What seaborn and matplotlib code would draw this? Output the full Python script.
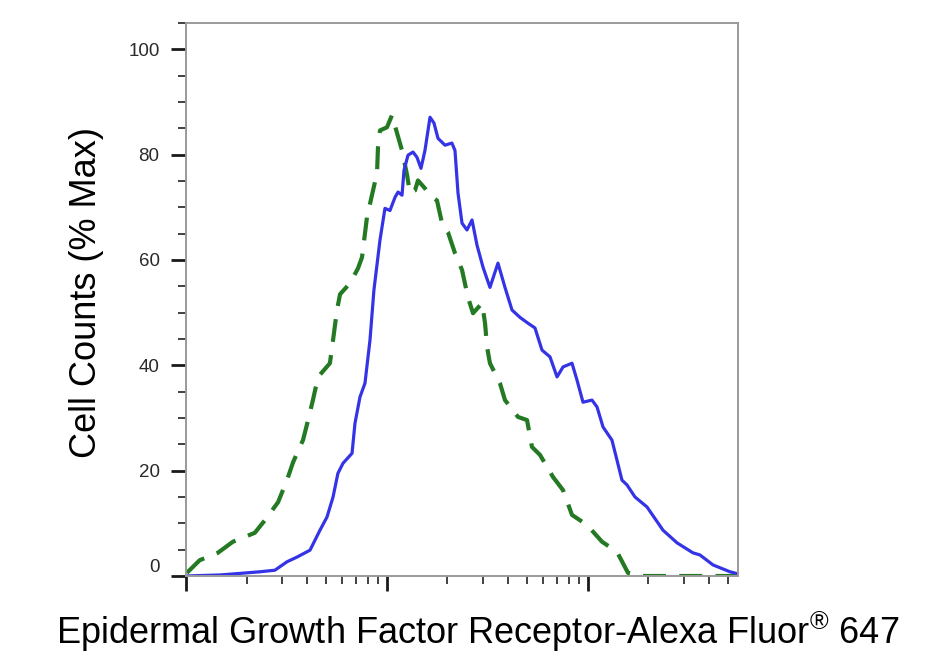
import numpy as np
import pandas as pd
import matplotlib
matplotlib.use("Agg")
import matplotlib.pyplot as plt
import seaborn as sns
from matplotlib.ticker import FixedLocator, NullFormatter, LogLocator

# ---- data ----
blue_x = [10.0, 14.8, 20.1, 23.3, 27.7, 31.8, 35.7, 41.4, 46.4, 50.3, 53.9, 57.0, 60.4,
          67.0, 69.3, 73.4, 77.7, 82.3, 86.1, 92.3, 97.7, 103.5, 109.6, 113.5, 118.8,
          121.5, 127.2, 134.7, 141.0, 147.6, 154.5, 163.7, 171.3, 179.4, 194.4, 210.4,
          217.9, 225.6, 236.2, 250.0, 264.9, 280.5, 300.6, 325.3, 356.6, 386.4, 418.8,
          459.0, 502.8, 544.8, 590.4, 647.3, 701.5, 751.5, 832.6, 881.8, 944.4, 1047,
          1109, 1188, 1316, 1394, 1476, 1563, 1714, 1967, 2361, 2773, 3327, 3606, 4188,
          5087, 5577]
blue_y = [0.0, 0.2, 0.6, 0.8, 1.1, 2.7, 3.6, 4.9, 8.7, 11.2, 15.0, 19.5, 21.4,
          23.3, 29.0, 34.0, 36.6, 44.8, 54.3, 63.8, 69.8, 69.4, 71.9, 72.9, 72.3,
          77.0, 79.9, 80.5, 79.5, 77.4, 80.8, 87.1, 86.0, 83.1, 81.8, 82.2,
          80.8, 72.7, 67.0, 65.7, 67.6, 62.8, 58.6, 54.8, 59.4, 54.8, 50.5,
          49.1, 48.0, 47.1, 42.9, 41.6, 37.8, 39.7, 40.4, 37.2, 33.0, 33.4,
          32.1, 28.3, 25.8, 22.0, 18.2, 17.3, 15.0, 13.1, 8.7, 6.3, 4.4, 4.0, 2.1,
          0.8, 0.4]

green_x = [10.1, 11.7, 14.4, 17.1, 22.0, 24.7, 28.7, 31.8, 34.1, 38.2, 40.5, 42.8, 45.4,
           52.0, 53.9, 56.4, 58.4, 65.5, 71.7, 75.1, 79.5, 85.2, 89.2, 90.2, 92.3, 100.0,
           105.9, 112.2, 118.8, 125.9, 130.1, 137.8, 142.6, 154.5, 163.7, 177.3, 187.8,
           201.0, 217.9, 236.2, 252.9, 267.9, 297.2, 307.5, 314.6, 325.3, 364.8, 386.4,
           448.7, 497.5, 526.3, 577.0, 669.9, 751.5, 832.6, 988.6, 1175, 1394, 1581,
           1850, 5400]
green_y = [0.6, 3.0, 4.4, 6.5, 8.2, 10.6, 14.0, 18.2, 21.6, 25.8, 29.6, 33.4, 37.8,
           40.4, 44.8, 50.5, 53.5, 55.6, 58.4, 60.5, 68.1, 73.2, 76.5, 81.4, 84.6, 85.2,
           87.5, 84.1, 80.8, 76.1, 72.7, 73.2, 75.1, 73.6, 72.3, 71.3, 67.0,
           65.3, 61.3, 58.1, 52.9, 49.9, 51.8, 48.0, 43.5, 40.4, 36.6, 33.4,
           30.2, 29.6, 24.5, 23.0, 18.8, 16.3, 11.6, 9.7, 6.5, 4.6, 0.6,
           0.0, 0.0]

y_ticks = [0, 20, 40, 60, 80, 100]
x_label = "Epidermal Growth Factor Receptor-Alexa Fluor$^{\u00ae}$ 647"
y_label = "Cell Counts (% Max)"

df_blue = pd.DataFrame({"x": blue_x, "y": blue_y})
df_green = pd.DataFrame({"x": green_x, "y": green_y})

# ---- style ----
sns.set_style("white")
plt.rcParams["font.family"] = ["Liberation Sans", "DejaVu Sans"]
plt.rcParams["mathtext.fontset"] = "custom"
plt.rcParams["mathtext.rm"] = "Liberation Sans"
plt.rcParams["mathtext.it"] = "Liberation Sans"

fig = plt.figure(figsize=(9.29, 6.65), dpi=100)
ax = fig.add_axes([186 / 929, 1 - 576 / 665, (738 - 186) / 929, (576 - 23) / 665])

sns.lineplot(data=df_green, x="x", y="y", ax=ax, color="#237a23", linewidth=3.0,
             estimator=None, sort=False)
ax.lines[-1].set_dashes((5.5, 3.2))
sns.lineplot(data=df_blue, x="x", y="y", ax=ax, color="#3434e6", linewidth=2.3,
             estimator=None, sort=False)

ax.set_xscale("log")
ax.set_xlim(10, 5577)
ax.set_ylim(0, 105)

# x ticks
ax.xaxis.set_major_locator(FixedLocator([10, 100, 1000]))
ax.xaxis.set_minor_locator(LogLocator(base=10, subs=np.arange(2, 10), numticks=20))
ax.xaxis.set_major_formatter(NullFormatter())
ax.xaxis.set_minor_formatter(NullFormatter())

# y ticks
ax.yaxis.set_major_locator(FixedLocator(y_ticks))
ax.yaxis.set_minor_locator(FixedLocator(np.arange(5, 106, 5)))
ax.set_yticklabels([str(t) for t in y_ticks])

ax.tick_params(axis="both", which="major", direction="out", length=11, width=2.0,
               color="#1a1a1a", bottom=True, left=True)
ax.tick_params(axis="both", which="minor", direction="out", length=5.5, width=1.3,
               color="#333333", bottom=True, left=True)
ax.tick_params(axis="y", which="major", labelsize=13.5, labelcolor="#2a2a2a", pad=8)

for lab in ax.get_yticklabels():
    if lab.get_text() == "0":
        lab.set_va("bottom")

for s in ax.spines.values():
    s.set_color("#9a9a9a")
    s.set_linewidth(1.4)

ax.set_xlabel(x_label, fontsize=26, color="black")
ax.set_ylabel(y_label, fontsize=26, color="black")
ax.xaxis.set_label_coords(0.528, -0.062)
ax.yaxis.set_label_coords(-0.148, 0.512)

fig.savefig("out.png", dpi=100, facecolor="white")
